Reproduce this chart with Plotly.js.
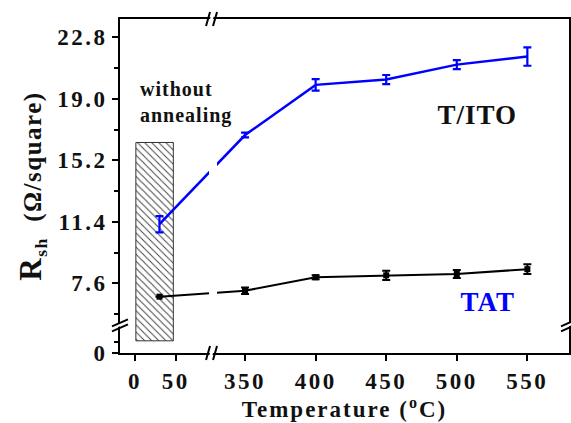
<!DOCTYPE html>
<html>
<head>
<meta charset="utf-8">
<script src="https://cdn.plot.ly/plotly-3.0.1.min.js"></script>
<style>
  html, body { margin: 0; padding: 0; background: #fff; }
  #chart { width: 571px; height: 423px; }
  #chart .xtick text, #chart .ytick text { letter-spacing: 2.5px; }
  #chart .xtitle { letter-spacing: 2px; }
  #chart .ytitle { letter-spacing: 1.5px; }
  #chart .annotation-text { letter-spacing: 1px; }
</style>
</head>
<body>
<div id="chart"></div>
<script>
// Annealing temperature (°C); 30 °C stands for the as-deposited films
const temperature = [30, 350, 400, 450, 500, 550];

// Sheet resistance (Ω/square) with error half-widths
const rshTITO = [11.25, 16.76, 19.86, 20.19, 21.11, 21.61];
const errTITO = [0.5, 0.15, 0.36, 0.28, 0.28, 0.57];
const rshTAT  = [6.77, 7.14, 7.97, 8.09, 8.17, 8.47];
const errTAT  = [0, 0.2, 0.12, 0.29, 0.25, 0.3];

// Axis ticks
const xTickValues = [0, 50, 350, 400, 450, 500, 550];
const xTickLabels = ['0', '50', '350', '400', '450', '500', '550'];
const yTickValues = [0, 7.6, 11.4, 15.2, 19.0, 22.8];
const yTickLabels = ['0', '7.6', '11.4', '15.2', '19.0', '22.8'];
const yMinorValues = [1.9, 5.7, 9.5, 13.3, 17.1, 20.9];

// Hatched block marking the unannealed region
const unannealedSpan = [1, 47];      // °C
const unannealedRange = [2.2, 16.3]; // Ω/square

// Broken axes: the low part of each axis is compressed onto a short stretch
const X_SPLIT = 100, X_LOW_ORIGIN = 272.07, X_LOW_SCALE = 0.5767;
const X_BREAK = 327.3;
const Y_SPLIT = 5.0, Y_LOW_ORIGIN = 3.29;
const Y_LOW_SCALE = (Y_SPLIT - Y_LOW_ORIGIN) / Y_SPLIT;
const xPos = t => (t < X_SPLIT ? X_LOW_ORIGIN + t * X_LOW_SCALE : t);
const yPos = v => (v < Y_SPLIT ? Y_LOW_ORIGIN + v * Y_LOW_SCALE : v);

const FONT = 'Liberation Serif, Times New Roman, serif';
const BLUE = '#0000ff';

const xs = temperature.map(xPos);

const traces = [
  {
    type: 'bar',
    x: [(xPos(unannealedSpan[0]) + xPos(unannealedSpan[1])) / 2],
    width: [xPos(unannealedSpan[1]) - xPos(unannealedSpan[0])],
    base: [yPos(unannealedRange[0])],
    y: [yPos(unannealedRange[1]) - yPos(unannealedRange[0])],
    marker: {
      color: '#ffffff',
      line: { color: '#333', width: 1 },
      pattern: { shape: '\\', fgcolor: '#444', bgcolor: '#ffffff', size: 5, solidity: 0.2 }
    },
    hoverinfo: 'skip'
  },
  {
    type: 'scatter', mode: 'lines+markers',
    x: xs, y: rshTAT.map(yPos),
    line: { color: '#000', width: 2 },
    marker: { symbol: 'square', size: 6, color: '#000' },
    error_y: { type: 'data', array: errTAT, color: '#000', thickness: 2, width: 4 }
  },
  {
    type: 'scatter', mode: 'lines',
    x: xs, y: rshTITO.map(yPos),
    line: { color: BLUE, width: 2.5 },
    error_y: { type: 'data', array: errTITO, color: BLUE, thickness: 2.2, width: 4 }
  }
];

// Break symbols: white gap plus a pair of slanted strokes
function xBreakMarks(yPaper) {
  return [
    { type: 'path', xref: 'x', yref: 'paper', xsizemode: 'pixel', ysizemode: 'pixel',
      xanchor: X_BREAK, yanchor: yPaper, layer: 'above',
      path: 'M -5,-7 L -1,7 L 2,7 L -2,-7 Z', fillcolor: '#fff', line: { width: 0 } },
    { type: 'path', xref: 'x', yref: 'paper', xsizemode: 'pixel', ysizemode: 'pixel',
      xanchor: X_BREAK, yanchor: yPaper, layer: 'above',
      path: 'M -7,-7 L -3,7 M 0,-7 L 4,7', line: { color: '#000', width: 2 } }
  ];
}
function yBreakMarks(xPaper) {
  return [
    { type: 'path', xref: 'paper', yref: 'y', xsizemode: 'pixel', ysizemode: 'pixel',
      xanchor: xPaper, yanchor: Y_SPLIT, layer: 'above',
      path: 'M -7,-4 L 7,2 L 7,5 L -7,-1 Z', fillcolor: '#fff', line: { width: 0 } },
    { type: 'path', xref: 'paper', yref: 'y', xsizemode: 'pixel', ysizemode: 'pixel',
      xanchor: xPaper, yanchor: Y_SPLIT, layer: 'above',
      path: 'M -8,-6 L 8,1 M -8,-1 L 8,6', line: { color: '#000', width: 2 } }
  ];
}

const shapes = [
  // gap in the data lines where the temperature axis is broken
  { type: 'rect', xref: 'x', yref: 'y', xsizemode: 'pixel', xanchor: X_BREAK,
    x0: -4, x1: 4, y0: 6, y1: 16, layer: 'above', fillcolor: '#fff', line: { width: 0 } },
  ...xBreakMarks(0), ...xBreakMarks(1), ...yBreakMarks(0), ...yBreakMarks(1)
];

const tickFont = { family: FONT, size: 23, color: '#111', weight: 'bold' };

const layout = {
  width: 571, height: 423,
  margin: { l: 120, r: 2, t: 19, b: 70 },
  paper_bgcolor: '#fff', plot_bgcolor: '#fff',
  showlegend: false, hovermode: false,
  xaxis: {
    range: [261.4, 579.5],
    tickmode: 'array', tickvals: xTickValues.map(xPos), ticktext: xTickLabels,
    ticks: 'outside', ticklen: 6, tickwidth: 2, tickcolor: '#000',
    showline: true, linewidth: 2, linecolor: '#000', mirror: true,
    showgrid: false, zeroline: false, tickfont: tickFont,
    title: { text: 'Temperature (<sup>o</sup>C)', standoff: 8,
             font: { family: FONT, size: 23, color: '#111', weight: 'bold' } }
  },
  yaxis: {
    range: [3.29, 23.93],
    tickmode: 'array', tickvals: yTickValues.map(yPos), ticktext: yTickLabels,
    ticks: 'outside', ticklen: 6, tickwidth: 2, tickcolor: '#000',
    minor: { tickmode: 'array', tickvals: yMinorValues.map(yPos), ticks: 'outside',
             ticklen: 4, tickwidth: 2, tickcolor: '#000', showgrid: false },
    showline: true, linewidth: 2, linecolor: '#000', mirror: true,
    showgrid: false, zeroline: false, tickfont: tickFont,
    title: { text: '<span style="font-size:31px">R</span><sub>sh</sub>  (Ω/square)', standoff: 18,
             font: { family: FONT, size: 25, color: '#111', weight: 'bold' } }
  },
  shapes: shapes,
  annotations: [
    { xref: 'paper', yref: 'paper', x: 0.0401, y: 0.829, xanchor: 'left', yanchor: 'top',
      align: 'left', showarrow: false, text: 'without<br>annealing',
      font: { family: FONT, size: 20, color: '#111', weight: 'bold' } },
    { xref: 'paper', yref: 'paper', x: 0.797, y: 0.7126, xanchor: 'center', yanchor: 'middle',
      showarrow: false, text: 'T/ITO',
      font: { family: FONT, size: 27, color: '#111', weight: 'bold' } },
    { xref: 'paper', yref: 'paper', x: 0.8196, y: 0.1527, xanchor: 'center', yanchor: 'middle',
      showarrow: false, text: 'TAT',
      font: { family: FONT, size: 27, color: BLUE, weight: 'bold' } }
  ]
};

Plotly.newPlot('chart', traces, layout, { staticPlot: true, displayModeBar: false });
</script>
</body>
</html>
